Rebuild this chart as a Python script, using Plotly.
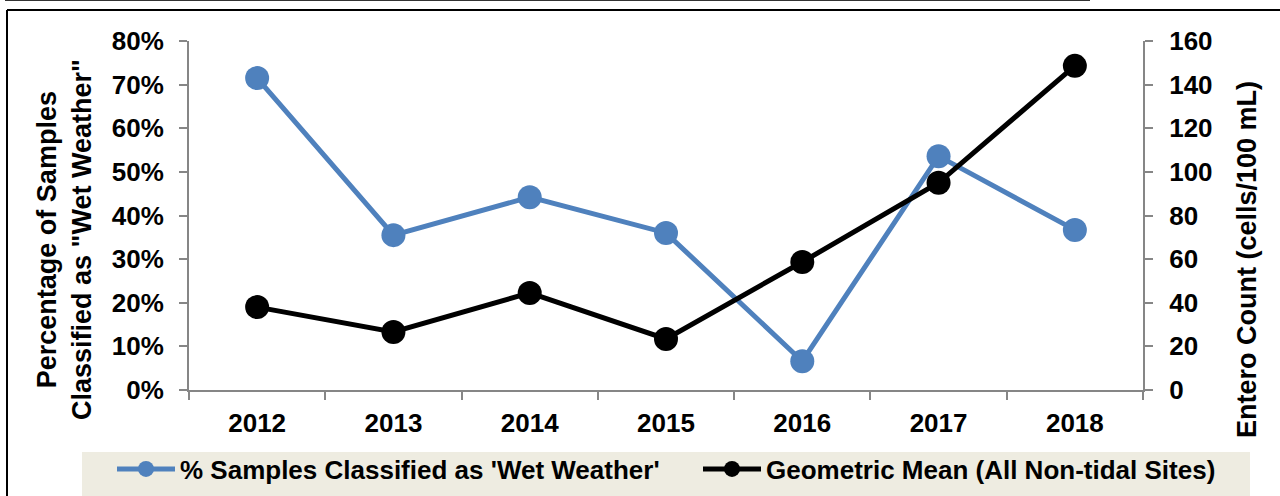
import plotly.graph_objects as go

years = ["2012", "2013", "2014", "2015", "2016", "2017", "2018"]
wet_pct = [0.715, 0.355, 0.442, 0.360, 0.066, 0.536, 0.367]
geo_mean = [38.0, 26.6, 44.5, 23.4, 58.7, 95.0, 148.6]

W, H = 1280, 496
L, R, T, B = 189, 137, 41, 106
pw, ph = W - L - R, H - T - B

def px_x(px):
    return (px - L) / pw

def px_y(py):
    return (H - B - py) / ph

FONT = "Liberation Sans, Arial, sans-serif"
AX = "#868686"

fig = go.Figure()
fig.add_trace(go.Scatter(
    x=years, y=wet_pct, name="% Samples Classified as 'Wet Weather'",
    mode="lines+markers", line=dict(color="#4F81BD", width=5),
    marker=dict(size=24, color="#4F81BD"), yaxis="y", legend="legend"))
fig.add_trace(go.Scatter(
    x=years, y=geo_mean, name="Geometric Mean (All Non-tidal Sites)",
    mode="lines+markers", line=dict(color="#000000", width=5),
    marker=dict(size=24, color="#000000"), yaxis="y2", legend="legend2"))

tf = dict(family=FONT, size=26, color="#000000", weight="bold")
lf = dict(family=FONT, size=26, color="#000000", weight="bold")

def leg(px_left):
    return dict(orientation="h", xref="container", yref="container",
                x=px_left / W, y=1 - 469 / H, xanchor="left", yanchor="middle",
                bgcolor="rgba(0,0,0,0)", font=lf, itemwidth=58)

fig.update_layout(
    width=W, height=H,
    margin=dict(l=L, r=R, t=T, b=B, autoexpand=False),
    paper_bgcolor="white", plot_bgcolor="white",
    showlegend=True,
    legend=leg(112),
    legend2=leg(698),
    xaxis=dict(type="category", showline=True, linecolor=AX, linewidth=2,
               ticks="outside", tickson="boundaries", ticklen=8, tickcolor=AX, tickwidth=2,
               showgrid=False, tickfont=tf, range=[-0.5, 6.5], ticklabelstandoff=9),
    yaxis=dict(range=[0, 0.8], dtick=0.1, tickformat=".0%", showline=True, linecolor=AX, linewidth=2,
               ticks="outside", ticklen=8, tickcolor=AX, tickwidth=2, showgrid=False,
               zeroline=False, tickfont=tf, ticklabelstandoff=10),
    yaxis2=dict(range=[0, 160], dtick=20, overlaying="y", side="right", showline=True,
                linecolor=AX, linewidth=2, ticks="outside", ticklen=8, tickcolor=AX, tickwidth=2,
                showgrid=False, zeroline=False, tickfont=tf, ticklabelstandoff=11),
    shapes=[
        dict(type="rect", xref="paper", yref="paper", x0=px_x(82), x1=px_x(1250),
             y0=px_y(496), y1=px_y(452), fillcolor="#EEECE1", line=dict(width=0), layer="below"),
        dict(type="line", xref="paper", yref="paper", x0=px_x(7), x1=px_x(7),
             y0=px_y(496), y1=px_y(10), line=dict(color="#000000", width=2)),
        dict(type="line", xref="paper", yref="paper", x0=px_x(7), x1=px_x(1280),
             y0=px_y(10), y1=px_y(10), line=dict(color="#000000", width=2)),
        dict(type="line", xref="paper", yref="paper", x0=px_x(5), x1=px_x(1090),
             y0=px_y(0.5), y1=px_y(0.5), line=dict(color="#333333", width=1)),
    ],
    annotations=[
        dict(text='Percentage of Samples<br>Classified as "Wet Weather"', textangle=-90,
             xref="paper", yref="paper", x=px_x(64), y=px_y(239), xanchor="center", yanchor="middle",
             showarrow=False, font=dict(family=FONT, size=27, color="#000000", weight="bold")),
        dict(text="Entero Count (cells/100 mL)", textangle=-90,
             xref="paper", yref="paper", x=px_x(1247), y=px_y(260), xanchor="center", yanchor="middle",
             showarrow=False, font=dict(family=FONT, size=27, color="#000000", weight="bold")),
    ],
)

fig.write_html("out.html", config={"displayModeBar": False},
               post_script="document.body.style.margin='0';document.body.style.overflow='hidden';")
